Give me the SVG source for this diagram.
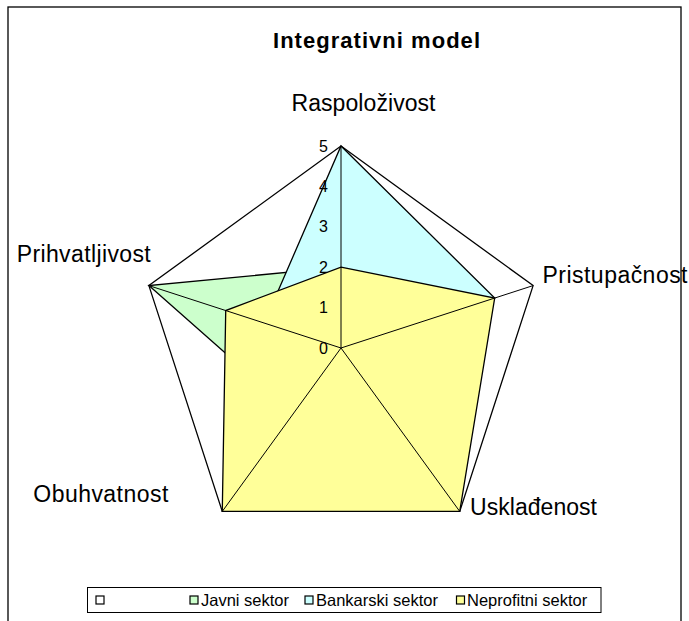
<svg xmlns="http://www.w3.org/2000/svg" width="689" height="621" viewBox="0 0 689 621">
<style>
text{font-family:"Liberation Sans",Arial,sans-serif;fill:#000}
.cat{font-size:23px}
.tick{font-size:16px;text-anchor:end}
.leg{font-size:16.5px}
.ser{stroke:#000;stroke-width:1.3;stroke-linejoin:miter}
.spoke{stroke:#000;stroke-width:1;fill:none}
.sw{stroke:#000;stroke-width:1.2}
</style>
<rect x="0" y="0" width="689" height="621" fill="#fff"/>
<rect id="frame" x="8" y="7" width="673" height="630" fill="#fff" stroke="#000" stroke-width="1.3"/>
<g id="title"><text x="273" y="47.5" font-size="22" font-weight="bold" textLength="207" lengthAdjust="spacing">Integrativni model</text></g>
<g id="series">
<polygon id="s-blank" class="ser" fill="#fff" stroke-width="1" points="341,146 533.11,285.58 459.73,511.42 222.27,511.42 148.89,285.58"/>
<polygon id="s-javni" class="ser" fill="#CCFFCC" points="341,267.2 417.85,323.03 388.49,413.37 293.51,413.37 148.89,285.58"/>
<polygon id="s-bankarski" class="ser" fill="#CCFFFF" points="341,146 494.69,298.06 388.49,413.37 293.51,413.37 264.15,323.03"/>
<polygon id="s-neprofitni" class="ser" fill="#FFFF99" points="341,267.2 494.69,298.06 459.73,511.42 222.27,511.42 225.73,310.55"/>
</g>
<g id="connectors">
<line class="spoke" x1="341" y1="348" x2="341" y2="146"/>
<line class="spoke" x1="341" y1="348" x2="533.11" y2="285.58"/>
<line class="spoke" x1="341" y1="348" x2="459.73" y2="511.42"/>
<line class="spoke" x1="341" y1="348" x2="222.27" y2="511.42"/>
<line class="spoke" x1="341" y1="348" x2="148.89" y2="285.58"/>
</g>
<g id="ticks">
<text class="tick" x="328" y="151.5">5</text>
<text class="tick" x="328" y="191.9">4</text>
<text class="tick" x="328" y="232.3">3</text>
<text class="tick" x="328" y="272.7">2</text>
<text class="tick" x="328" y="313.1">1</text>
<text class="tick" x="328" y="353.5">0</text>
</g>
<g id="n-raspolozivost"><text class="cat" x="291.5" y="110.7" textLength="144" lengthAdjust="spacing">Raspoloživost</text></g>
<g id="n-pristupacnost"><text class="cat" x="542.5" y="283.3" textLength="145" lengthAdjust="spacing">Pristupačnost</text></g>
<g id="n-uskladjenost"><text class="cat" x="470" y="515" textLength="127" lengthAdjust="spacing">Usklađenost</text></g>
<g id="n-obuhvatnost"><text class="cat" x="33.3" y="501.7" textLength="135" lengthAdjust="spacing">Obuhvatnost</text></g>
<g id="n-prihvatljivost"><text class="cat" x="16.7" y="261.7" textLength="134" lengthAdjust="spacing">Prihvatljivost</text></g>
<g id="legend">
<rect x="87.5" y="587.5" width="513.5" height="25" fill="#fff" stroke="#000" stroke-width="1"/>
<rect class="sw" x="96" y="596" width="8" height="8" fill="#fff"/>
<rect class="sw" x="190" y="596" width="8" height="8" fill="#CCFFCC"/>
<text class="leg" x="201" y="606">Javni sektor</text>
<rect class="sw" x="305" y="596" width="8" height="8" fill="#CCFFFF"/>
<text class="leg" x="316" y="606">Bankarski sektor</text>
<rect class="sw" x="456.5" y="596" width="8" height="8" fill="#FFFF99"/>
<text class="leg" x="467" y="606">Neprofitni sektor</text>
</g>
</svg>
